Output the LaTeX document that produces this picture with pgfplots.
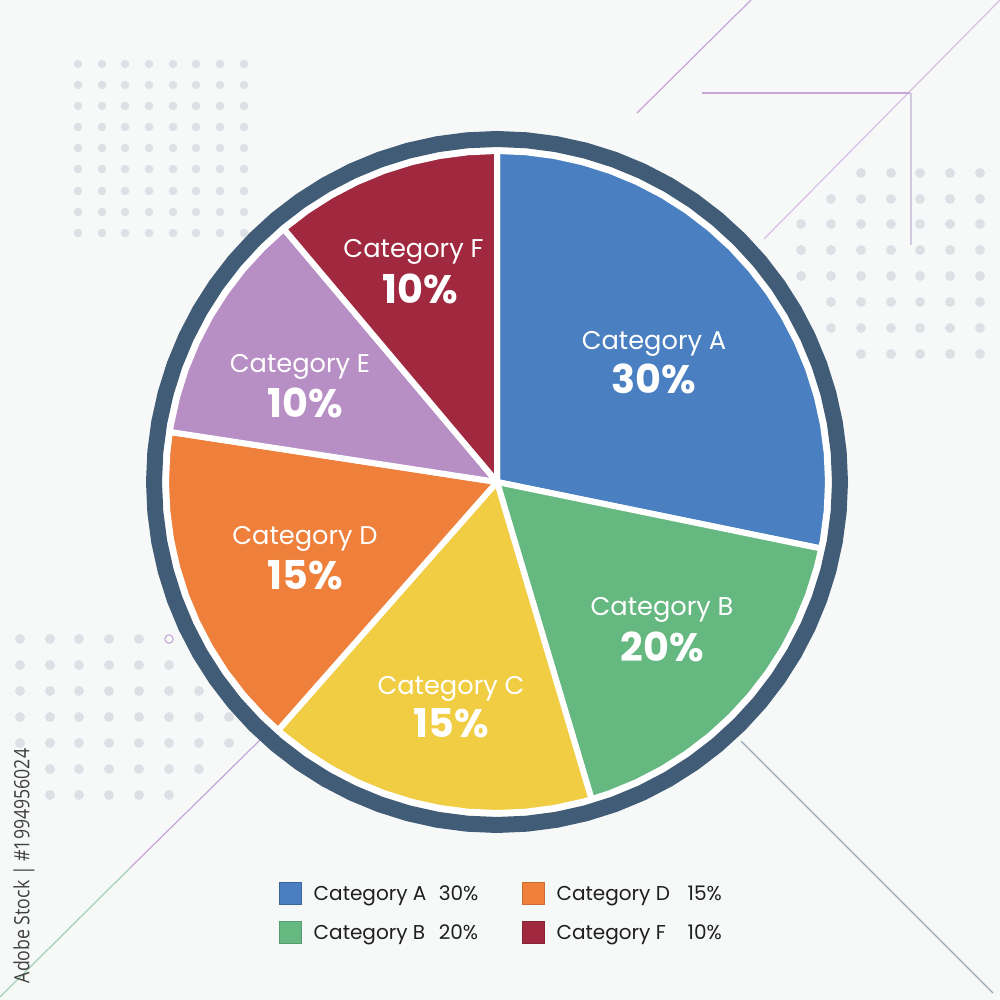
\documentclass[border=0pt]{standalone}
\usepackage{pgfplots}
\pgfplotsset{compat=1.18}
\usepackage{fontspec}
\setmainfont{Poppins}
\newfontfamily\wmfont{Open Sans}
\definecolor{bg}{RGB}{247,249,249}
\definecolor{colA}{RGB}{74,128,193}
\definecolor{colB}{RGB}{102,184,129}
\definecolor{colC}{RGB}{241,205,68}
\definecolor{colD}{RGB}{239,128,60}
\definecolor{colE}{RGB}{184,143,197}
\definecolor{colF}{RGB}{160,41,64}
\definecolor{ringc}{RGB}{65,92,118}
\definecolor{dotc}{RGB}{221,224,229}
\definecolor{lilac}{RGB}{200,165,215}
\definecolor{mint}{RGB}{160,212,178}
\definecolor{greyline}{RGB}{154,166,180}
\begin{document}
\begin{tikzpicture}
\begin{axis}[
  x=0.01cm, y=0.01cm,
  xmin=-497, xmax=503, ymin=-518, ymax=482,
  hide axis,
  legend columns=2,
  legend cell align=left,
  legend image code/.code={\draw[#1] (0cm,-0.11cm) rectangle (0.22cm,0.11cm);},
  legend style={at={(axis cs:-218,-400)}, anchor=north west, draw=none, fill=none,
    inner sep=0pt, outer sep=0pt, row sep=0.16cm,
    font=\fontsize{5.7pt}{6pt}\selectfont, text=black!88,
    nodes={inner sep=0pt, text height=0.15cm, text depth=0pt},
    /tikz/every odd column/.append style={column sep=0.12cm}},
]
% background
\addplot[fill=bg, draw=none, forget plot] coordinates {(-497,-518) (503,-518) (503,482) (-497,482)} -- cycle;

% decorative lines
\addplot[lilac, line width=0.35pt, forget plot] coordinates {(140,369) (254,482)};
\addplot[lilac!70, line width=0.35pt, forget plot] coordinates {(503,482) (267,243)};
\addplot[lilac, line width=0.35pt, forget plot] coordinates {(205,389) (413,389)};
\addplot[lilac!60!greyline!60, line width=0.35pt, forget plot] coordinates {(414,389) (414,237)};
\addplot[mint, line width=0.35pt, forget plot] coordinates {(-497,-515) (-367,-386)};
\addplot[lilac, line width=0.35pt, forget plot] coordinates {(-367,-386) (-237,-258)};
\addplot[greyline, line width=0.35pt, forget plot] coordinates {(244,-259) (496,-511)};

% dot grids
\addplot[color=dotc, only marks, mark=*, mark size=1.0pt, mark options={solid, fill=dotc, draw=dotc}, forget plot] coordinates {
(-419,418) (-395,418) (-372,418) (-348,418) (-324,418) (-301,418) (-277,418) (-253,418)
(-419,397) (-395,397) (-372,397) (-348,397) (-324,397) (-301,397) (-277,397) (-253,397)
(-419,376) (-395,376) (-372,376) (-348,376) (-324,376) (-301,376) (-277,376) (-253,376)
(-419,355) (-395,355) (-372,355) (-348,355) (-324,355) (-301,355) (-277,355) (-253,355)
(-419,334) (-395,334) (-372,334) (-348,334) (-324,334) (-301,334) (-277,334) (-253,334)
(-419,313) (-395,313) (-372,313) (-348,313) (-324,313) (-301,313) (-277,313) (-253,313)
(-419,291) (-395,291) (-372,291) (-348,291) (-324,291) (-301,291) (-277,291) (-253,291)
(-419,270) (-395,270) (-372,270) (-348,270) (-324,270) (-301,270) (-277,270) (-253,270)
(-419,249) (-395,249) (-372,249) (-348,249) (-324,249) (-301,249) (-277,249) (-253,249)
};
\addplot[color=dotc, only marks, mark=*, mark size=1.2pt, mark options={solid, fill=dotc, draw=dotc}, forget plot] coordinates {
(364,309) (394,309) (423,309) (453,309) (483,309)
(334,283) (364,283) (394,283) (423,283) (453,283) (483,283)
(304,258) (334,258) (364,258) (394,258) (423,258) (453,258) (483,258)
(304,232) (334,232) (364,232) (394,232) (423,232) (453,232) (483,232)
(304,206) (334,206) (364,206) (394,206) (423,206) (453,206) (483,206)
(334,180) (364,180) (394,180) (423,180) (453,180) (483,180)
(334,154) (364,154) (394,154) (423,154) (453,154) (483,154)
(364,128) (394,128) (423,128) (453,128) (483,128)
};
\addplot[color=dotc, only marks, mark=*, mark size=1.2pt, mark options={solid, fill=dotc, draw=dotc}, forget plot] coordinates {
(-477,-157) (-447,-157) (-418,-157) (-388,-157) (-358,-157)
(-477,-183) (-447,-183) (-418,-183) (-388,-183) (-358,-183) (-328,-183)
(-477,-209) (-447,-209) (-418,-209) (-388,-209) (-358,-209) (-328,-209) (-298,-209)
(-477,-235) (-447,-235) (-418,-235) (-388,-235) (-358,-235) (-328,-235) (-298,-235) (-268,-235)
(-477,-261) (-447,-261) (-418,-261) (-388,-261) (-358,-261) (-328,-261) (-298,-261) (-268,-261)
(-447,-287) (-418,-287) (-388,-287) (-358,-287) (-328,-287) (-298,-287)
(-447,-313) (-418,-313) (-388,-313) (-358,-313) (-328,-313)
};
\addplot[color=lilac, only marks, mark=o, mark size=1.2pt, mark options={solid, draw=lilac, line width=0.3pt}, forget plot] coordinates {(-328,-157)};

% white disk behind the pie
\addplot[data cs=polar, fill=white, draw=none, forget plot] coordinates {
(0,336) (5,336) (10,336) (15,336) (20,336) (25,336) (30,336) (35,336) (40,336) (45,336) (50,336) (55,336)
(60,336) (65,336) (70,336) (75,336) (80,336) (85,336) (90,336) (95,336) (100,336) (105,336) (110,336) (115,336)
(120,336) (125,336) (130,336) (135,336) (140,336) (145,336) (150,336) (155,336) (160,336) (165,336) (170,336) (175,336)
(180,336) (185,336) (190,336) (195,336) (200,336) (205,336) (210,336) (215,336) (220,336) (225,336) (230,336) (235,336)
(240,336) (245,336) (250,336) (255,336) (260,336) (265,336) (270,336) (275,336) (280,336) (285,336) (290,336) (295,336)
(300,336) (305,336) (310,336) (315,336) (320,336) (325,336) (330,336) (335,336) (340,336) (345,336) (350,336) (355,336)
} -- cycle;

% outer ring
\addplot[data cs=polar, draw=ringc, line width=0.16cm, forget plot] coordinates {
(0,343) (5,343) (10,343) (15,343) (20,343) (25,343) (30,343) (35,343) (40,343) (45,343) (50,343) (55,343)
(60,343) (65,343) (70,343) (75,343) (80,343) (85,343) (90,343) (95,343) (100,343) (105,343) (110,343) (115,343)
(120,343) (125,343) (130,343) (135,343) (140,343) (145,343) (150,343) (155,343) (160,343) (165,343) (170,343) (175,343)
(180,343) (185,343) (190,343) (195,343) (200,343) (205,343) (210,343) (215,343) (220,343) (225,343) (230,343) (235,343)
(240,343) (245,343) (250,343) (255,343) (260,343) (265,343) (270,343) (275,343) (280,343) (285,343) (290,343) (295,343)
(300,343) (305,343) (310,343) (315,343) (320,343) (325,343) (330,343) (335,343) (340,343) (345,343) (350,343) (355,343)
} -- cycle;

% pie sectors (polar: angle in degrees, radius)
\addplot[data cs=polar, fill=colA, draw=white, line width=0.06cm, line join=round, forget plot] coordinates {
(0,0) (-11.6,331) (-10,331) (-5,331) (0,331) (5,331) (10,331) (15,331) (20,331) (25,331) (30,331) (35,331)
(40,331) (45,331) (50,331) (55,331) (60,331) (65,331) (70,331) (75,331) (80,331) (85,331) (90,331)
} -- cycle;
\addplot[data cs=polar, fill=colB, draw=white, line width=0.06cm, line join=round, forget plot] coordinates {
(0,0) (-73.4,331) (-70,331) (-65,331) (-60,331) (-55,331) (-50,331) (-45,331) (-40,331) (-35,331) (-30,331)
(-25,331) (-20,331) (-15,331) (-11.6,331)
} -- cycle;
\addplot[data cs=polar, fill=colC, draw=white, line width=0.06cm, line join=round, forget plot] coordinates {
(0,0) (-131.4,331) (-130,331) (-125,331) (-120,331) (-115,331) (-110,331) (-105,331) (-100,331) (-95,331)
(-90,331) (-85,331) (-80,331) (-75,331) (-73.4,331)
} -- cycle;
\addplot[data cs=polar, fill=colD, draw=white, line width=0.06cm, line join=round, forget plot] coordinates {
(0,0) (171.3,331) (175,331) (180,331) (185,331) (190,331) (195,331) (200,331) (205,331) (210,331) (215,331)
(220,331) (225,331) (228.6,331)
} -- cycle;
\addplot[data cs=polar, fill=colE, draw=white, line width=0.06cm, line join=round, forget plot] coordinates {
(0,0) (130.1,331) (135,331) (140,331) (145,331) (150,331) (155,331) (160,331) (165,331) (170,331) (171.3,331)
} -- cycle;
\addplot[data cs=polar, fill=colF, draw=white, line width=0.06cm, line join=round, forget plot] coordinates {
(0,0) (90,331) (95,331) (100,331) (105,331) (110,331) (115,331) (120,331) (125,331) (130.1,331)
} -- cycle;

% slice labels
\tikzset{nm/.style={anchor=base, text=white, inner sep=0pt, font=\fontsize{7.3pt}{8pt}\selectfont},
         pc/.style={anchor=base, text=white, inner sep=0pt, font=\fontsize{11.3pt}{12pt}\selectfont\bfseries}}
\node[nm] at (axis cs:157,132) {Category A};
\node[pc] at (axis cs:157,88) {30\%};
\node[nm] at (axis cs:165,-134) {Category B};
\node[pc] at (axis cs:165,-179.5) {20\%};
\node[nm] at (axis cs:-46,-213) {Category C};
\node[pc] at (axis cs:-46,-255.5) {15\%};
\node[nm] at (axis cs:-192,-63) {Category D};
\node[pc] at (axis cs:-192,-107.5) {15\%};
\node[nm] at (axis cs:-197,109) {Category E};
\node[pc] at (axis cs:-192,64.5) {10\%};
\node[nm] at (axis cs:-83.5,224) {Category F};
\node[pc] at (axis cs:-76.5,178) {10\%};

% side text
\node[rotate=90, text=black!75, inner sep=0pt, font=\wmfont\fontsize{6pt}{7pt}\selectfont] at (axis cs:-473,-384) {\scalebox{0.84}[1]{Adobe Stock | \#1994956024}};

% legend
\addlegendimage{fill=colA, draw=colA!80!black, line width=0.2pt}
\addlegendentry{\makebox[2.08cm][l]{\makebox[1.25cm][l]{Category A}30\%}}
\addlegendimage{fill=colD, draw=colD!85!black, line width=0.2pt}
\addlegendentry{\makebox[1.31cm][l]{Category D}15\%}
\addlegendimage{fill=colB, draw=colB!85!black, line width=0.2pt}
\addlegendentry{\makebox[2.08cm][l]{\makebox[1.25cm][l]{Category B}20\%}}
\addlegendimage{fill=colF, draw=colF!85!black, line width=0.2pt}
\addlegendentry{\makebox[1.31cm][l]{Category F}10\%}
\end{axis}
\end{tikzpicture}
\end{document}
